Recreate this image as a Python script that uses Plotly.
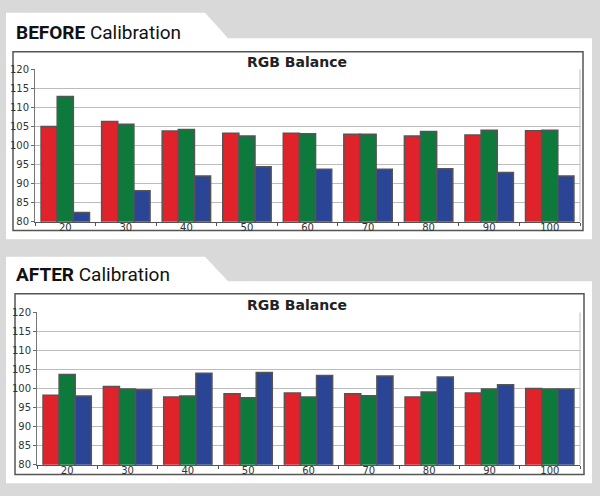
import plotly.graph_objects as go
from plotly.subplots import make_subplots

categories = ["20", "30", "40", "50", "60", "70", "80", "90", "100"]

before_red = [105.0, 106.3, 103.8, 103.2, 103.2, 103.0, 102.5, 102.8, 103.9]
before_green = [112.9, 105.6, 104.2, 102.5, 103.1, 103.0, 103.7, 104.0, 104.0]
before_blue = [82.4, 88.1, 92.0, 94.4, 93.8, 93.8, 93.9, 92.9, 92.0]

after_red = [98.2, 100.5, 97.8, 98.6, 98.8, 98.6, 97.8, 98.8, 100.0]
after_green = [103.7, 99.9, 98.0, 97.6, 97.8, 98.1, 99.1, 99.9, 99.9]
after_blue = [98.0, 99.7, 104.0, 104.2, 103.4, 103.3, 103.0, 101.0, 99.9]

y_ticks = [80, 85, 90, 95, 100, 105, 110, 115, 120]

W, H = 600, 496
RED, GREEN, BLUE = "#e0232b", "#0d7a3b", "#2a4595"


def px(x):
    return x / W


def py(y):
    return 1 - y / H


fig = make_subplots(rows=2, cols=1)

for row, series in ((1, (before_red, before_green, before_blue)),
                    (2, (after_red, after_green, after_blue))):
    for vals, col in zip(series, (RED, GREEN, BLUE)):
        fig.add_trace(go.Bar(x=categories, y=vals, marker=dict(color=col, line=dict(color="#555555", width=1.5)),
                             showlegend=False, hoverinfo="skip"), row=row, col=1)

axis_font = dict(family="DejaVu Sans", size=10, color="#333333")
common_y = dict(range=[80, 120], tickvals=y_ticks, ticks="outside", ticklen=3, tickcolor="#666666",
                showgrid=True, gridcolor="#bcbcbc", gridwidth=1, showline=True, linecolor="#777777",
                linewidth=1, mirror=False, tickfont=axis_font, zeroline=False, fixedrange=True)
common_x = dict(type="category", ticks="outside", tickson="boundaries", ticklen=3, tickcolor="#555555",
                showline=True, linecolor="#555555", linewidth=1, tickfont=axis_font, showgrid=False,
                ticklabelstandoff=-4, fixedrange=True)

fig.update_layout(
    width=W, height=H,
    margin=dict(l=0, r=0, t=0, b=0),
    paper_bgcolor="#d9d9d9",
    plot_bgcolor="white",
    barmode="group", bargap=0.2, bargroupgap=0.0,
    xaxis=dict(domain=[px(35), px(580)], **common_x),
    yaxis=dict(domain=[py(221), py(65)], **common_y),
    xaxis2=dict(domain=[px(37), px(580)], **common_x),
    yaxis2=dict(domain=[py(470), py(314)], **common_y),
)

shapes = []
# white panels with tab
for top, tabtop, bottom in ((7, 33, 239), (257, 282, 489)):
    path = (f"M {px(6)} {py(top)} L {px(205)} {py(top)} L {px(228)} {py(tabtop)} "
            f"L {px(592)} {py(tabtop)} L {px(592)} {py(bottom)} L {px(6)} {py(bottom)} Z")
    shapes.append(dict(type="path", xref="paper", yref="paper", path=path,
                       fillcolor="white", line=dict(width=0), layer="below"))
# chart frames
for x0, y0, x1, y1 in ((13, 47, 583, 230), (15, 295, 584, 480)):
    shapes.append(dict(type="rect", xref="paper", yref="paper", x0=px(x0), y0=py(y1), x1=px(x1), y1=py(y0),
                       line=dict(color="#555555", width=1.5), fillcolor="rgba(0,0,0,0)", layer="below"))
# right border of plot areas
for y0, y1 in ((65, 221), (314, 470)):
    shapes.append(dict(type="line", xref="paper", yref="paper", x0=px(580), x1=px(580), y0=py(y0), y1=py(y1),
                       line=dict(color="#bcbcbc", width=1)))
fig.update_layout(shapes=shapes)

ann = []
for label, y in (("BEFORE", 27), ("AFTER", 275)):
    ann.append(dict(xref="paper", yref="paper", x=px(14), y=py(y), xanchor="left", yanchor="middle",
                    text=f"<b>{label}</b> Calibration", showarrow=False,
                    font=dict(family="Roboto", size=19, color="#111111")))
for y in (57, 306):
    ann.append(dict(xref="paper", yref="paper", x=px(297), y=py(y), xanchor="center", yanchor="middle",
                    text="<b>RGB Balance</b>", showarrow=False,
                    font=dict(family="DejaVu Sans", size=14, color="#222222")))
fig.update_layout(annotations=ann)

fig.write_html("out.html", config={"displayModeBar": False},
               post_script="document.body.style.margin='0';document.body.style.background='#d9d9d9';")
